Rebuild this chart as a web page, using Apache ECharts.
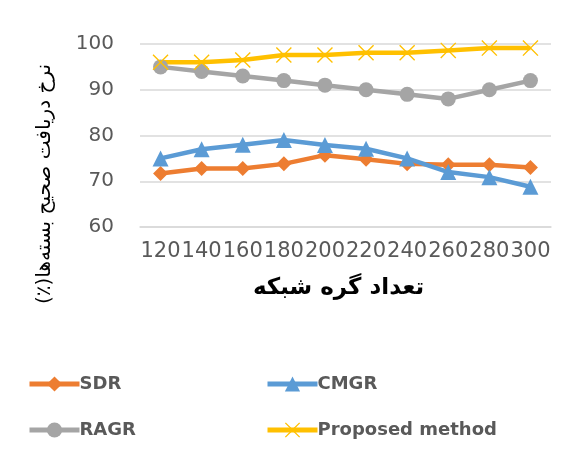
<!DOCTYPE html>
<html>
<head>
<meta charset="utf-8">
<script src="https://cdn.jsdelivr.net/npm/echarts@6/dist/echarts.min.js"></script>
<style>
  html, body { margin: 0; padding: 0; background: #fff; }
  #chart { width: 576px; height: 460px; }
</style>
</head>
<body>
<div id="chart"></div>
<script>
// داده‌ها
const nodes = ['120', '140', '160', '180', '200', '220', '240', '260', '280', '300'];
const sdr = [71.7, 72.8, 72.8, 73.8, 75.7, 74.8, 73.8, 73.6, 73.6, 73];
const cmgr = [75, 77, 78, 79, 77.9, 77.1, 75, 72, 70.9, 68.8];
const ragr = [95, 94, 93, 92, 91, 90, 89, 88, 90, 92];
const proposed = [96, 96, 96.5, 97.6, 97.6, 98.1, 98.1, 98.6, 99.1, 99.1];

const FONT = 'DejaVu Sans';
const GRAY = '#595959';
const xMark = 'path://M0,0.6 L0.6,0 L5,4.4 L9.4,0 L10,0.6 L5.6,5 L10,9.4 L9.4,10 L5,5.6 L0.6,10 L0,9.4 L4.4,5 Z';

const chart = echarts.init(document.getElementById('chart'));
const legendBase = {
  orient: 'vertical',
  top: 375,
  padding: 0,
  itemWidth: 50,
  itemHeight: 19,
  itemGap: 28,
  lineStyle: { width: 5 },
  textStyle: { fontFamily: FONT, fontSize: 18, fontWeight: 'bold', color: GRAY, padding: [0, 0, 0, -5] }
};
const option = {
  animation: false,
  grid: { left: 140, right: 25, top: 44, bottom: 233 },
  xAxis: {
    type: 'category',
    data: nodes,
    name: 'تعداد گره شبکه',
    nameLocation: 'middle',
    nameGap: 50,
    nameTextStyle: { fontFamily: FONT, fontSize: 23, fontWeight: 'bold', color: '#000', padding: [0, 14, 0, 0] },
    axisLine: { lineStyle: { color: '#d9d9d9', width: 1.5 } },
    axisTick: { show: false },
    axisLabel: { interval: 0, fontFamily: FONT, fontSize: 21, color: GRAY, margin: 14 }
  },
  yAxis: {
    type: 'value',
    min: 60,
    max: 100,
    interval: 10,
    axisLine: { show: false },
    axisTick: { show: false },
    axisLabel: { fontFamily: FONT, fontSize: 20, color: GRAY, margin: 26 },
    splitLine: { lineStyle: { color: '#d9d9d9', width: 1.5 } }
  },
  graphic: [{
    type: 'text',
    x: 45,
    y: 184,
    rotation: Math.PI / 2,
    style: {
      text: '\u200Fنرخ دریافت صحیح بسته‌ها(٪)\u200F',
      fontFamily: FONT,
      fontSize: 20,
      fill: '#000',
      textAlign: 'center',
      textVerticalAlign: 'middle'
    }
  }],
  legend: [
    Object.assign({}, legendBase, { data: ['SDR', 'RAGR'], left: 27 }),
    Object.assign({}, legendBase, { data: ['CMGR', 'Proposed method'], left: 265 })
  ],
  series: [
    {
      name: 'SDR', type: 'line', data: sdr,
      symbol: 'diamond', symbolSize: 15,
      color: '#ED7D31', lineStyle: { width: 4.5 }
    },
    {
      name: 'CMGR', type: 'line', data: cmgr,
      symbol: 'triangle', symbolSize: 16,
      color: '#5B9BD5', lineStyle: { width: 4.5 }
    },
    {
      name: 'RAGR', type: 'line', data: ragr,
      symbol: 'circle', symbolSize: 15,
      color: '#A5A5A5', lineStyle: { width: 4.5 }
    },
    {
      name: 'Proposed method', type: 'line', data: proposed,
      symbol: xMark, symbolSize: 16,
      color: '#FFC000', lineStyle: { width: 4.5 }
    }
  ]
};
chart.setOption(option);
</script>
</body>
</html>
